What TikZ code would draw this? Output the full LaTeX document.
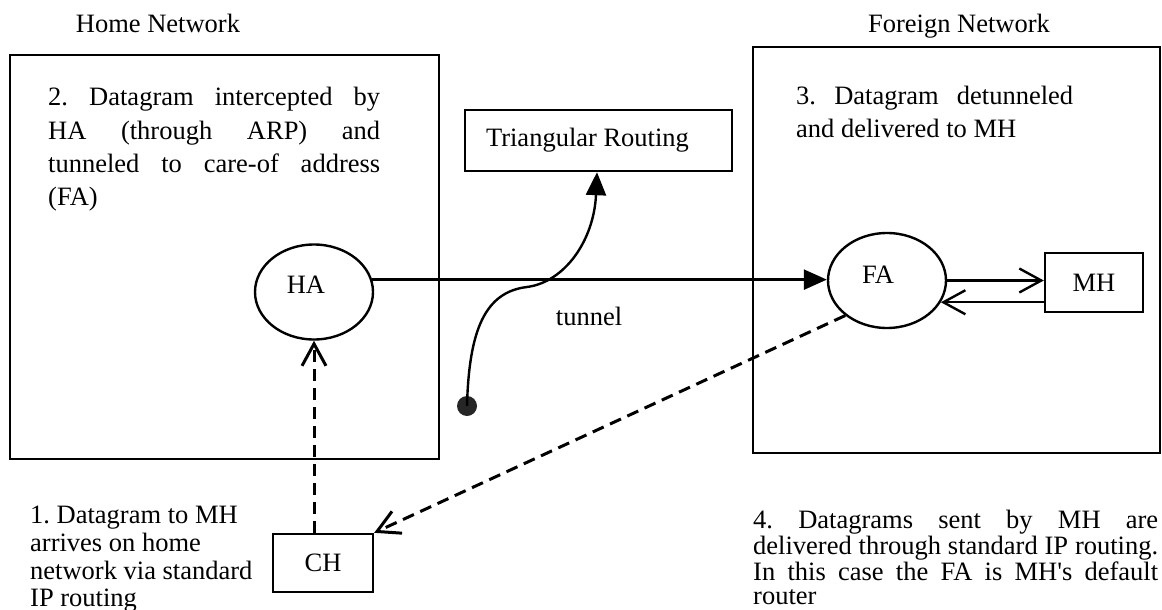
\documentclass[tikz,border=0pt]{standalone}
\usepackage{fontspec}
\setmainfont{Liberation Serif}
\usetikzlibrary{arrows.meta,shapes.geometric}
\frenchspacing

\tikzset{
  netbox/.style={draw, line width=2.6pt},
  ell/.style={draw, ellipse, line width=2.4pt, minimum width=118pt, minimum height=95pt, inner sep=0pt},
  tagbox/.style={draw, rectangle, line width=2.4pt, inner sep=0pt, font=\fontsize{26.5}{32}\selectfont},
  txt/.style={inner sep=0pt, anchor=base west, font=\fontsize{26.5}{32}\selectfont},
  solidline/.style={line width=2.4pt},
  dashline/.style={line width=3pt, dash pattern=on 12pt off 7pt},
  barb/.style={-{Straight Barb[length=22pt,width=24pt]}},
  tri/.style={-{Triangle[length=23pt,width=20pt]}},
}

\begin{document}
\begin{tikzpicture}[x=1pt,y=-1pt]
\useasboundingbox (0,0) rectangle (1162,610);

% network frames and their headings
\draw[netbox] (10,55) rectangle (439,459);
\draw[netbox] (753,47) rectangle (1160,453);
\node[txt, anchor=base] (homettl) at (158,33) {Home Network};
\node[txt, anchor=base] (forttl) at (959,33) {Foreign Network};

% agents and hosts
\node[ell] (HA) at (314,292) {};
\node[txt, anchor=base] (HAt) at (306,293) {HA};
\node[ell] (FA) at (887,280.5) {};
\node[txt, anchor=base] (FAt) at (878,283) {FA};
\node[tagbox, minimum width=98pt, minimum height=59pt] (MH) at (1094,282.5) {MH};
\node[tagbox, minimum width=100pt, minimum height=58pt] (CH) at (323,563) {CH};
\node[tagbox, minimum width=267pt, minimum height=61pt] (TR) at (598.5,140.5) {\hspace*{-22pt}Triangular Routing};

% tunnel from HA to FA
\draw[solidline, tri] (HA.12) -- (HA.12 -| FA.west);
\node[txt, anchor=base] (tun) at (589,325) {tunnel};

% FA <-> MH
\draw[solidline, barb] (FA.east) -- (FA.east -| MH.west);
\coordinate (FAlow) at (FA.-22);
\draw[solidline, barb] (FAlow -| MH.west) -- (FAlow);

% dashed paths: CH to HA, FA back to CH
\draw[dashline, barb] (CH.north -| HA.south) -- (HA.south);
\draw[dashline, barb] (FA.220) -- (CH.north east);

% triangular routing curve
\node[circle, fill=black!85, inner sep=0pt, minimum size=20pt] (dot) at (467,406) {};
\coordinate (trx) at (597,0);
\draw[solidline, tri] (dot.center) .. controls (469,330) and (485,292) .. (527,287)
  .. controls (565,282) and (594,240) .. (trx |- TR.south);

% step 2
\node[txt] (s2a) at (48,106) {\makebox[332pt][s]{2. Datagram intercepted by}};
\node[txt] (s2b) at (48,139) {\makebox[332pt][s]{HA (through ARP) and}};
\node[txt] (s2c) at (48,172) {\makebox[332pt][s]{tunneled to care-of address}};
\node[txt] (s2d) at (48,205) {(FA)};

% step 3
\node[txt] (s3a) at (796,104) {\makebox[277pt][s]{3. Datagram detunneled}};
\node[txt] (s3b) at (796,137) {and delivered to MH};

% step 1
\node[txt] (s1a) at (30,523) {1. Datagram to MH};
\node[txt] (s1b) at (30,551) {arrives on home};
\node[txt] (s1c) at (30,579) {network via standard};
\node[txt] (s1d) at (30,606) {IP routing};

% step 4
\node[txt] (s4a) at (753,528) {\makebox[405pt][s]{4. Datagrams sent by MH are}};
\node[txt] (s4b) at (753,554) {\makebox[405pt][s]{delivered through standard IP routing.}};
\node[txt] (s4c) at (753,580) {\makebox[405pt][s]{In this case the FA is MH\textquotesingle s default}};
\node[txt] (s4d) at (753,604) {router};
\end{tikzpicture}
\end{document}
